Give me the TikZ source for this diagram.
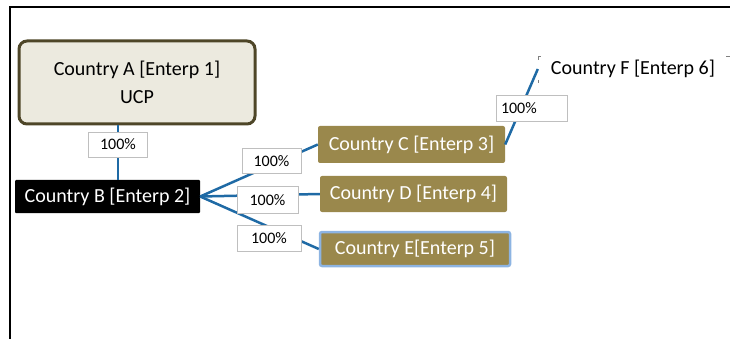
\documentclass[tikz,border=0pt]{standalone}
\usepackage{fontspec}
\setmainfont{Carlito}
\definecolor{afill}{RGB}{236,234,223}
\definecolor{aborder}{RGB}{78,70,40}
\definecolor{olive}{RGB}{154,136,76}
\definecolor{linkblue}{RGB}{31,106,165}
\definecolor{eborder}{RGB}{141,180,226}
\definecolor{lblgray}{RGB}{191,191,191}
\tikzset{
  ent/.style={fill=olive, text=white, rounded corners=2pt, inner sep=0pt,
    font=\fontsize{20}{23}\selectfont},
  lbl/.style={draw=lblgray, fill=white, line width=0.8pt, inner sep=0pt,
    font=\fontsize{16}{19}\selectfont},
  link/.style={draw=linkblue, line width=2.5pt},
}
\begin{document}
\begin{tikzpicture}[x=1pt,y=-1pt]
\useasboundingbox (0,0) rectangle (730,339);
% frame
\draw[line width=2pt] (730,7) -- (10,7) -- (10,339);
% main nodes
\node[draw=aborder, fill=afill, line width=3pt, rounded corners=8pt,
  minimum width=236pt, minimum height=83pt, align=center, inner sep=0pt,
  font=\fontsize{20}{28}\selectfont] (A) at (137,82.5) {Country A [Enterp 1]\\UCP};
\node[fill=black, text=white, rounded corners=1pt, inner sep=0pt,
  minimum width=185pt, minimum height=33pt, font=\fontsize{20}{23}\selectfont]
  (B) at (107.5,196.5) {Country B [Enterp 2]};
\node[ent, minimum width=187pt, minimum height=37pt] (C) at (411.5,144.5) {Country C [Enterp 3]};
\node[ent, minimum width=187pt, minimum height=36pt] (D) at (413.5,194) {Country D [Enterp 4]};
\node[ent, draw=eborder, line width=2.5pt, minimum width=190pt, minimum height=34pt] (E) at (415,249) {Country E[Enterp 5]};
\node[inner sep=0pt, minimum width=190pt, minimum height=26pt,
  font=\fontsize{20}{23}\selectfont] (F) at (633,69) {Country F [Enterp 6]};
% faint corner marks of F
\draw[gray, line width=0.8pt] (538,60) -- (538,56) -- (541,56);
\draw[gray, line width=0.8pt] (538,80) -- (538,83);
\draw[gray, line width=0.8pt] (726,56) -- (730,56);
% connectors
\draw[link] (A.south -| 118,0) -- (B.north -| 118,0);
\draw[link] (B.east) -- (C.west);
\draw[link] (B.east) -- (D.west);
\draw[link] (B.east) -- (E.west);
\draw[link] (C.east) -- (F.west);
% percentage labels
\node[lbl, minimum width=59pt, minimum height=25pt] (lAB) at (118,144.5) {100\%};
\node[lbl, minimum width=59pt, minimum height=25pt] (lBC) at (271.5,161) {100\%};
\node[lbl, minimum width=61pt, minimum height=27pt] (lBD) at (267.5,200) {100\%};
\node[lbl, minimum width=64pt, minimum height=26pt] (lBE) at (269,238) {100\%};
\node[lbl, minimum width=71pt, minimum height=26pt, text width=61pt, align=left] (lCF) at (531.5,108) {100\%};
\end{tikzpicture}
\end{document}
